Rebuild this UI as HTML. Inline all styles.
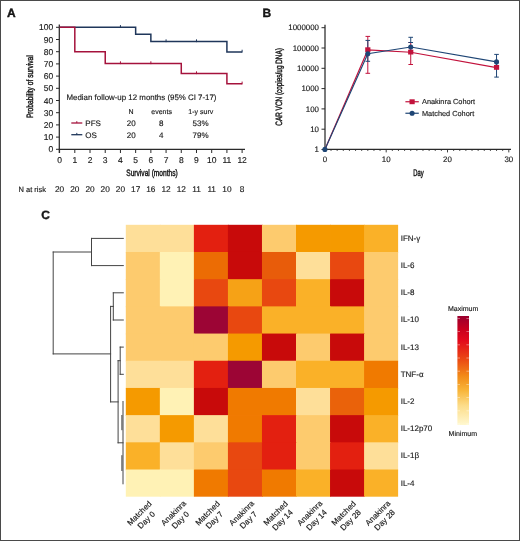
<!DOCTYPE html><html><head><meta charset="utf-8"><style>html,body{margin:0;padding:0;background:#fff;}svg{display:block;will-change:transform;}text{font-family:"Liberation Sans",sans-serif;text-rendering:geometricPrecision;fill:#1a1a1a;}</style></head><body>
<svg width="520" height="541" viewBox="0 0 520 541">
<rect x="0" y="0" width="520" height="541" fill="#fff"/>
<rect x="0.5" y="0.5" width="519" height="540" fill="none" stroke="#4a4a4a" stroke-width="1"/>
<text x="7" y="17" font-size="12" font-weight="bold" fill="#000" stroke="#000" stroke-width="0.35">A</text>
<text x="262.5" y="17" font-size="12" font-weight="bold" fill="#000" stroke="#000" stroke-width="0.35">B</text>
<text x="41.3" y="219" font-size="12" font-weight="bold" fill="#000" stroke="#000" stroke-width="0.35">C</text>
<line x1="59.3" y1="24.5" x2="59.3" y2="153" stroke="#2a2a2a" stroke-width="1.25"/>
<line x1="58.8" y1="149.4" x2="245" y2="149.4" stroke="#2a2a2a" stroke-width="1.25"/>
<line x1="56" y1="149.30" x2="59.3" y2="149.30" stroke="#2a2a2a" stroke-width="1"/>
<text x="53.3" y="152.30" font-size="8.5" text-anchor="end" fill="#1a1a1a" stroke="#1a1a1a" stroke-width="0.15">0</text>
<line x1="56" y1="137.10" x2="59.3" y2="137.10" stroke="#2a2a2a" stroke-width="1"/>
<text x="53.3" y="140.10" font-size="8.5" text-anchor="end" fill="#1a1a1a" stroke="#1a1a1a" stroke-width="0.15">10</text>
<line x1="56" y1="124.90" x2="59.3" y2="124.90" stroke="#2a2a2a" stroke-width="1"/>
<text x="53.3" y="127.90" font-size="8.5" text-anchor="end" fill="#1a1a1a" stroke="#1a1a1a" stroke-width="0.15">20</text>
<line x1="56" y1="112.70" x2="59.3" y2="112.70" stroke="#2a2a2a" stroke-width="1"/>
<text x="53.3" y="115.70" font-size="8.5" text-anchor="end" fill="#1a1a1a" stroke="#1a1a1a" stroke-width="0.15">30</text>
<line x1="56" y1="100.50" x2="59.3" y2="100.50" stroke="#2a2a2a" stroke-width="1"/>
<text x="53.3" y="103.50" font-size="8.5" text-anchor="end" fill="#1a1a1a" stroke="#1a1a1a" stroke-width="0.15">40</text>
<line x1="56" y1="88.30" x2="59.3" y2="88.30" stroke="#2a2a2a" stroke-width="1"/>
<text x="53.3" y="91.30" font-size="8.5" text-anchor="end" fill="#1a1a1a" stroke="#1a1a1a" stroke-width="0.15">50</text>
<line x1="56" y1="76.10" x2="59.3" y2="76.10" stroke="#2a2a2a" stroke-width="1"/>
<text x="53.3" y="79.10" font-size="8.5" text-anchor="end" fill="#1a1a1a" stroke="#1a1a1a" stroke-width="0.15">60</text>
<line x1="56" y1="63.90" x2="59.3" y2="63.90" stroke="#2a2a2a" stroke-width="1"/>
<text x="53.3" y="66.90" font-size="8.5" text-anchor="end" fill="#1a1a1a" stroke="#1a1a1a" stroke-width="0.15">70</text>
<line x1="56" y1="51.70" x2="59.3" y2="51.70" stroke="#2a2a2a" stroke-width="1"/>
<text x="53.3" y="54.70" font-size="8.5" text-anchor="end" fill="#1a1a1a" stroke="#1a1a1a" stroke-width="0.15">80</text>
<line x1="56" y1="39.50" x2="59.3" y2="39.50" stroke="#2a2a2a" stroke-width="1"/>
<text x="53.3" y="42.50" font-size="8.5" text-anchor="end" fill="#1a1a1a" stroke="#1a1a1a" stroke-width="0.15">90</text>
<line x1="56" y1="27.30" x2="59.3" y2="27.30" stroke="#2a2a2a" stroke-width="1"/>
<text x="53.3" y="30.30" font-size="8.5" text-anchor="end" fill="#1a1a1a" stroke="#1a1a1a" stroke-width="0.15">100</text>
<line x1="59.60" y1="149.4" x2="59.60" y2="153" stroke="#2a2a2a" stroke-width="1"/>
<text x="59.60" y="163.1" font-size="8.5" text-anchor="middle" fill="#1a1a1a" stroke="#1a1a1a" stroke-width="0.15">0</text>
<line x1="74.81" y1="149.4" x2="74.81" y2="153" stroke="#2a2a2a" stroke-width="1"/>
<text x="74.81" y="163.1" font-size="8.5" text-anchor="middle" fill="#1a1a1a" stroke="#1a1a1a" stroke-width="0.15">1</text>
<line x1="90.02" y1="149.4" x2="90.02" y2="153" stroke="#2a2a2a" stroke-width="1"/>
<text x="90.02" y="163.1" font-size="8.5" text-anchor="middle" fill="#1a1a1a" stroke="#1a1a1a" stroke-width="0.15">2</text>
<line x1="105.23" y1="149.4" x2="105.23" y2="153" stroke="#2a2a2a" stroke-width="1"/>
<text x="105.23" y="163.1" font-size="8.5" text-anchor="middle" fill="#1a1a1a" stroke="#1a1a1a" stroke-width="0.15">3</text>
<line x1="120.44" y1="149.4" x2="120.44" y2="153" stroke="#2a2a2a" stroke-width="1"/>
<text x="120.44" y="163.1" font-size="8.5" text-anchor="middle" fill="#1a1a1a" stroke="#1a1a1a" stroke-width="0.15">4</text>
<line x1="135.65" y1="149.4" x2="135.65" y2="153" stroke="#2a2a2a" stroke-width="1"/>
<text x="135.65" y="163.1" font-size="8.5" text-anchor="middle" fill="#1a1a1a" stroke="#1a1a1a" stroke-width="0.15">5</text>
<line x1="150.86" y1="149.4" x2="150.86" y2="153" stroke="#2a2a2a" stroke-width="1"/>
<text x="150.86" y="163.1" font-size="8.5" text-anchor="middle" fill="#1a1a1a" stroke="#1a1a1a" stroke-width="0.15">6</text>
<line x1="166.07" y1="149.4" x2="166.07" y2="153" stroke="#2a2a2a" stroke-width="1"/>
<text x="166.07" y="163.1" font-size="8.5" text-anchor="middle" fill="#1a1a1a" stroke="#1a1a1a" stroke-width="0.15">7</text>
<line x1="181.28" y1="149.4" x2="181.28" y2="153" stroke="#2a2a2a" stroke-width="1"/>
<text x="181.28" y="163.1" font-size="8.5" text-anchor="middle" fill="#1a1a1a" stroke="#1a1a1a" stroke-width="0.15">8</text>
<line x1="196.49" y1="149.4" x2="196.49" y2="153" stroke="#2a2a2a" stroke-width="1"/>
<text x="196.49" y="163.1" font-size="8.5" text-anchor="middle" fill="#1a1a1a" stroke="#1a1a1a" stroke-width="0.15">9</text>
<line x1="211.70" y1="149.4" x2="211.70" y2="153" stroke="#2a2a2a" stroke-width="1"/>
<text x="211.70" y="163.1" font-size="8.5" text-anchor="middle" fill="#1a1a1a" stroke="#1a1a1a" stroke-width="0.15">10</text>
<line x1="226.91" y1="149.4" x2="226.91" y2="153" stroke="#2a2a2a" stroke-width="1"/>
<text x="226.91" y="163.1" font-size="8.5" text-anchor="middle" fill="#1a1a1a" stroke="#1a1a1a" stroke-width="0.15">11</text>
<line x1="242.12" y1="149.4" x2="242.12" y2="153" stroke="#2a2a2a" stroke-width="1"/>
<text x="242.12" y="163.1" font-size="8.5" text-anchor="middle" fill="#1a1a1a" stroke="#1a1a1a" stroke-width="0.15">12</text>
<text x="152" y="175.9" font-size="9.3" text-anchor="middle" fill="#1a1a1a" stroke="#1a1a1a" stroke-width="0.45" textLength="51.5" lengthAdjust="spacingAndGlyphs">Survival (months)</text>
<text transform="translate(33.2,86.7) rotate(-90)" x="0" y="0" font-size="9.2" text-anchor="middle" fill="#1a1a1a" stroke="#1a1a1a" stroke-width="0.45" textLength="62.8" lengthAdjust="spacingAndGlyphs">Probability of survival</text>
<path d="M59.60,27.30 H135.65 V34.25 H150.86 V41.57 H226.91 V51.94 H242.12" fill="none" stroke="#1F365A" stroke-width="1.5" stroke-linejoin="miter"/>
<path d="M59.60,27.30 H74.81 V51.70 H105.23 V63.53 H181.28 V73.54 H226.91 V83.79 H242.12" fill="none" stroke="#A5123C" stroke-width="1.5" stroke-linejoin="miter"/>
<line x1="120.44" y1="25.10" x2="120.44" y2="27.90" stroke="#1F365A" stroke-width="1"/>
<line x1="166.07" y1="39.37" x2="166.07" y2="42.17" stroke="#1F365A" stroke-width="1"/>
<line x1="196.49" y1="39.37" x2="196.49" y2="42.17" stroke="#1F365A" stroke-width="1"/>
<line x1="242.12" y1="49.74" x2="242.12" y2="52.54" stroke="#1F365A" stroke-width="1"/>
<line x1="120.44" y1="61.33" x2="120.44" y2="64.13" stroke="#A5123C" stroke-width="1"/>
<line x1="150.86" y1="61.33" x2="150.86" y2="64.13" stroke="#A5123C" stroke-width="1"/>
<line x1="196.49" y1="71.34" x2="196.49" y2="74.14" stroke="#A5123C" stroke-width="1"/>
<line x1="242.12" y1="81.59" x2="242.12" y2="84.39" stroke="#A5123C" stroke-width="1"/>
<text x="66.5" y="99.6" font-size="7.9" fill="#1a1a1a" stroke="#1a1a1a" stroke-width="0.15">Median follow-up 12 months (95% CI 7-17)</text>
<text x="131" y="113.8" font-size="7" text-anchor="middle" fill="#1a1a1a" stroke="#1a1a1a" stroke-width="0.15">N</text>
<text x="161.6" y="113.8" font-size="7" text-anchor="middle" fill="#1a1a1a" stroke="#1a1a1a" stroke-width="0.15">events</text>
<text x="200.8" y="113.8" font-size="7" text-anchor="middle" fill="#1a1a1a" stroke="#1a1a1a" stroke-width="0.15">1-y surv</text>
<line x1="71.3" y1="123" x2="82.3" y2="123" stroke="#A5123C" stroke-width="1.3"/>
<line x1="76.8" y1="121.2" x2="76.8" y2="123" stroke="#A5123C" stroke-width="1"/>
<text x="85.3" y="125.9" font-size="8" fill="#1a1a1a" stroke="#1a1a1a" stroke-width="0.15">PFS</text>
<text x="131.3" y="125.9" font-size="8" text-anchor="middle" fill="#1a1a1a" stroke="#1a1a1a" stroke-width="0.15">20</text>
<text x="161.3" y="125.9" font-size="8" text-anchor="middle" fill="#1a1a1a" stroke="#1a1a1a" stroke-width="0.15">8</text>
<text x="200.5" y="125.9" font-size="8" text-anchor="middle" fill="#1a1a1a" stroke="#1a1a1a" stroke-width="0.15">53%</text>
<line x1="71.3" y1="134.7" x2="82.3" y2="134.7" stroke="#1F365A" stroke-width="1.3"/>
<line x1="76.8" y1="132.89999999999998" x2="76.8" y2="134.7" stroke="#1F365A" stroke-width="1"/>
<text x="85.3" y="137.6" font-size="8" fill="#1a1a1a" stroke="#1a1a1a" stroke-width="0.15">OS</text>
<text x="131.3" y="137.6" font-size="8" text-anchor="middle" fill="#1a1a1a" stroke="#1a1a1a" stroke-width="0.15">20</text>
<text x="161.3" y="137.6" font-size="8" text-anchor="middle" fill="#1a1a1a" stroke="#1a1a1a" stroke-width="0.15">4</text>
<text x="200.5" y="137.6" font-size="8" text-anchor="middle" fill="#1a1a1a" stroke="#1a1a1a" stroke-width="0.15">79%</text>
<text x="18.5" y="191.5" font-size="7.5" fill="#1a1a1a" stroke="#1a1a1a" stroke-width="0.15" textLength="27.5" lengthAdjust="spacingAndGlyphs">N at risk</text>
<text x="59.60" y="191.9" font-size="8.3" text-anchor="middle" fill="#1a1a1a" stroke="#1a1a1a" stroke-width="0.15">20</text>
<text x="74.81" y="191.9" font-size="8.3" text-anchor="middle" fill="#1a1a1a" stroke="#1a1a1a" stroke-width="0.15">20</text>
<text x="90.02" y="191.9" font-size="8.3" text-anchor="middle" fill="#1a1a1a" stroke="#1a1a1a" stroke-width="0.15">20</text>
<text x="105.23" y="191.9" font-size="8.3" text-anchor="middle" fill="#1a1a1a" stroke="#1a1a1a" stroke-width="0.15">20</text>
<text x="120.44" y="191.9" font-size="8.3" text-anchor="middle" fill="#1a1a1a" stroke="#1a1a1a" stroke-width="0.15">20</text>
<text x="135.65" y="191.9" font-size="8.3" text-anchor="middle" fill="#1a1a1a" stroke="#1a1a1a" stroke-width="0.15">17</text>
<text x="150.86" y="191.9" font-size="8.3" text-anchor="middle" fill="#1a1a1a" stroke="#1a1a1a" stroke-width="0.15">16</text>
<text x="166.07" y="191.9" font-size="8.3" text-anchor="middle" fill="#1a1a1a" stroke="#1a1a1a" stroke-width="0.15">12</text>
<text x="181.28" y="191.9" font-size="8.3" text-anchor="middle" fill="#1a1a1a" stroke="#1a1a1a" stroke-width="0.15">12</text>
<text x="196.49" y="191.9" font-size="8.3" text-anchor="middle" fill="#1a1a1a" stroke="#1a1a1a" stroke-width="0.15">11</text>
<text x="211.70" y="191.9" font-size="8.3" text-anchor="middle" fill="#1a1a1a" stroke="#1a1a1a" stroke-width="0.15">11</text>
<text x="226.91" y="191.9" font-size="8.3" text-anchor="middle" fill="#1a1a1a" stroke="#1a1a1a" stroke-width="0.15">10</text>
<text x="242.12" y="191.9" font-size="8.3" text-anchor="middle" fill="#1a1a1a" stroke="#1a1a1a" stroke-width="0.15">8</text>
<line x1="325" y1="24.8" x2="325" y2="149.6" stroke="#2a2a2a" stroke-width="1.25"/>
<line x1="324.5" y1="149.4" x2="511" y2="149.4" stroke="#2a2a2a" stroke-width="1.25"/>
<line x1="321.5" y1="149.50" x2="325" y2="149.50" stroke="#2a2a2a" stroke-width="1"/>
<text x="319" y="152.25" font-size="7.9" text-anchor="end" fill="#1a1a1a" stroke="#1a1a1a" stroke-width="0.15">1</text>
<line x1="321.5" y1="129.20" x2="325" y2="129.20" stroke="#2a2a2a" stroke-width="1"/>
<text x="319" y="131.95" font-size="7.9" text-anchor="end" fill="#1a1a1a" stroke="#1a1a1a" stroke-width="0.15">10</text>
<line x1="321.5" y1="108.90" x2="325" y2="108.90" stroke="#2a2a2a" stroke-width="1"/>
<text x="319" y="111.65" font-size="7.9" text-anchor="end" fill="#1a1a1a" stroke="#1a1a1a" stroke-width="0.15">100</text>
<line x1="321.5" y1="88.60" x2="325" y2="88.60" stroke="#2a2a2a" stroke-width="1"/>
<text x="319" y="91.35" font-size="7.9" text-anchor="end" fill="#1a1a1a" stroke="#1a1a1a" stroke-width="0.15">1000</text>
<line x1="321.5" y1="68.30" x2="325" y2="68.30" stroke="#2a2a2a" stroke-width="1"/>
<text x="319" y="71.05" font-size="7.9" text-anchor="end" fill="#1a1a1a" stroke="#1a1a1a" stroke-width="0.15">10000</text>
<line x1="321.5" y1="48.00" x2="325" y2="48.00" stroke="#2a2a2a" stroke-width="1"/>
<text x="319" y="50.75" font-size="7.9" text-anchor="end" fill="#1a1a1a" stroke="#1a1a1a" stroke-width="0.15">100000</text>
<line x1="321.5" y1="27.70" x2="325" y2="27.70" stroke="#2a2a2a" stroke-width="1"/>
<text x="319" y="30.45" font-size="7.9" text-anchor="end" fill="#1a1a1a" stroke="#1a1a1a" stroke-width="0.15">1000000</text>
<line x1="331.03" y1="149.4" x2="331.03" y2="150.90" stroke="#2a2a2a" stroke-width="0.9"/>
<line x1="337.16" y1="149.4" x2="337.16" y2="150.90" stroke="#2a2a2a" stroke-width="0.9"/>
<line x1="343.29" y1="149.4" x2="343.29" y2="150.90" stroke="#2a2a2a" stroke-width="0.9"/>
<line x1="349.42" y1="149.4" x2="349.42" y2="150.90" stroke="#2a2a2a" stroke-width="0.9"/>
<line x1="355.55" y1="149.4" x2="355.55" y2="150.90" stroke="#2a2a2a" stroke-width="0.9"/>
<line x1="361.68" y1="149.4" x2="361.68" y2="150.90" stroke="#2a2a2a" stroke-width="0.9"/>
<line x1="367.81" y1="149.4" x2="367.81" y2="150.90" stroke="#2a2a2a" stroke-width="0.9"/>
<line x1="373.94" y1="149.4" x2="373.94" y2="150.90" stroke="#2a2a2a" stroke-width="0.9"/>
<line x1="380.07" y1="149.4" x2="380.07" y2="150.90" stroke="#2a2a2a" stroke-width="0.9"/>
<line x1="386.20" y1="149.4" x2="386.20" y2="152.40" stroke="#2a2a2a" stroke-width="0.9"/>
<line x1="392.33" y1="149.4" x2="392.33" y2="150.90" stroke="#2a2a2a" stroke-width="0.9"/>
<line x1="398.46" y1="149.4" x2="398.46" y2="150.90" stroke="#2a2a2a" stroke-width="0.9"/>
<line x1="404.59" y1="149.4" x2="404.59" y2="150.90" stroke="#2a2a2a" stroke-width="0.9"/>
<line x1="410.72" y1="149.4" x2="410.72" y2="150.90" stroke="#2a2a2a" stroke-width="0.9"/>
<line x1="416.85" y1="149.4" x2="416.85" y2="150.90" stroke="#2a2a2a" stroke-width="0.9"/>
<line x1="422.98" y1="149.4" x2="422.98" y2="150.90" stroke="#2a2a2a" stroke-width="0.9"/>
<line x1="429.11" y1="149.4" x2="429.11" y2="150.90" stroke="#2a2a2a" stroke-width="0.9"/>
<line x1="435.24" y1="149.4" x2="435.24" y2="150.90" stroke="#2a2a2a" stroke-width="0.9"/>
<line x1="441.37" y1="149.4" x2="441.37" y2="150.90" stroke="#2a2a2a" stroke-width="0.9"/>
<line x1="447.50" y1="149.4" x2="447.50" y2="152.40" stroke="#2a2a2a" stroke-width="0.9"/>
<line x1="453.63" y1="149.4" x2="453.63" y2="150.90" stroke="#2a2a2a" stroke-width="0.9"/>
<line x1="459.76" y1="149.4" x2="459.76" y2="150.90" stroke="#2a2a2a" stroke-width="0.9"/>
<line x1="465.89" y1="149.4" x2="465.89" y2="150.90" stroke="#2a2a2a" stroke-width="0.9"/>
<line x1="472.02" y1="149.4" x2="472.02" y2="150.90" stroke="#2a2a2a" stroke-width="0.9"/>
<line x1="478.15" y1="149.4" x2="478.15" y2="150.90" stroke="#2a2a2a" stroke-width="0.9"/>
<line x1="484.28" y1="149.4" x2="484.28" y2="150.90" stroke="#2a2a2a" stroke-width="0.9"/>
<line x1="490.41" y1="149.4" x2="490.41" y2="150.90" stroke="#2a2a2a" stroke-width="0.9"/>
<line x1="496.54" y1="149.4" x2="496.54" y2="150.90" stroke="#2a2a2a" stroke-width="0.9"/>
<line x1="502.67" y1="149.4" x2="502.67" y2="150.90" stroke="#2a2a2a" stroke-width="0.9"/>
<line x1="508.80" y1="149.4" x2="508.80" y2="152.40" stroke="#2a2a2a" stroke-width="0.9"/>
<text x="324.90" y="162.1" font-size="7.9" text-anchor="middle" fill="#1a1a1a" stroke="#1a1a1a" stroke-width="0.15">0</text>
<text x="386.20" y="162.1" font-size="7.9" text-anchor="middle" fill="#1a1a1a" stroke="#1a1a1a" stroke-width="0.15">10</text>
<text x="447.50" y="162.1" font-size="7.9" text-anchor="middle" fill="#1a1a1a" stroke="#1a1a1a" stroke-width="0.15">20</text>
<text x="508.80" y="162.1" font-size="7.9" text-anchor="middle" fill="#1a1a1a" stroke="#1a1a1a" stroke-width="0.15">30</text>
<text x="418.45" y="175.5" font-size="9.6" text-anchor="middle" fill="#1a1a1a" stroke="#1a1a1a" stroke-width="0.45" textLength="10.4" lengthAdjust="spacingAndGlyphs">Day</text>
<text transform="translate(282.4,86.9) rotate(-90)" x="0" y="0" font-size="9.2" text-anchor="middle" fill="#1a1a1a" stroke="#1a1a1a" stroke-width="0.45" textLength="77.6" lengthAdjust="spacingAndGlyphs">CAR VCN (copies/ug DNA)</text>
<line x1="367.81" y1="36.4" x2="367.81" y2="73.3" stroke="#C2123C" stroke-width="1"/>
<line x1="365.51" y1="36.4" x2="370.11" y2="36.4" stroke="#C2123C" stroke-width="1"/>
<line x1="365.51" y1="73.3" x2="370.11" y2="73.3" stroke="#C2123C" stroke-width="1"/>
<line x1="410.72" y1="42.5" x2="410.72" y2="64.5" stroke="#C2123C" stroke-width="1"/>
<line x1="408.42" y1="42.5" x2="413.02" y2="42.5" stroke="#C2123C" stroke-width="1"/>
<line x1="408.42" y1="64.5" x2="413.02" y2="64.5" stroke="#C2123C" stroke-width="1"/>
<line x1="367.81" y1="40.4" x2="367.81" y2="61.3" stroke="#1F4675" stroke-width="1"/>
<line x1="365.51" y1="40.4" x2="370.11" y2="40.4" stroke="#1F4675" stroke-width="1"/>
<line x1="365.51" y1="61.3" x2="370.11" y2="61.3" stroke="#1F4675" stroke-width="1"/>
<line x1="410.72" y1="37.3" x2="410.72" y2="42.5" stroke="#1F4675" stroke-width="1"/>
<line x1="408.42" y1="37.3" x2="413.02" y2="37.3" stroke="#1F4675" stroke-width="1"/>
<line x1="408.42" y1="42.5" x2="413.02" y2="42.5" stroke="#1F4675" stroke-width="1"/>
<line x1="496.54" y1="54.4" x2="496.54" y2="77.1" stroke="#1F4675" stroke-width="1"/>
<line x1="494.24" y1="54.4" x2="498.84" y2="54.4" stroke="#1F4675" stroke-width="1"/>
<line x1="494.24" y1="77.1" x2="498.84" y2="77.1" stroke="#1F4675" stroke-width="1"/>
<path d="M324.90,149.40 L367.81,49.90 L410.72,52.30 L496.54,67.60" fill="none" stroke="#C2123C" stroke-width="1.15"/>
<rect x="365.21" y="47.30" width="5.2" height="4.8" fill="#C2123C"/>
<rect x="408.12" y="49.70" width="5.2" height="4.8" fill="#C2123C"/>
<rect x="493.94" y="65.00" width="5.2" height="4.8" fill="#C2123C"/>
<path d="M324.90,149.40 L367.81,53.80 L410.72,47.00 L496.54,61.90" fill="none" stroke="#1F4675" stroke-width="1.15"/>
<circle cx="324.90" cy="149.40" r="2.55" fill="#1F4675"/>
<circle cx="367.81" cy="53.80" r="2.55" fill="#1F4675"/>
<circle cx="410.72" cy="47.00" r="2.55" fill="#1F4675"/>
<circle cx="496.54" cy="61.90" r="2.55" fill="#1F4675"/>
<line x1="405.4" y1="101.75" x2="418.8" y2="101.75" stroke="#C2123C" stroke-width="1.2"/>
<rect x="409.5" y="99.3" width="5.2" height="4.9" fill="#C2123C"/>
<text x="422" y="104.3" font-size="7.35" fill="#1a1a1a" stroke="#1a1a1a" stroke-width="0.15">Anakinra Cohort</text>
<line x1="405.4" y1="113.25" x2="418.8" y2="113.25" stroke="#1F4675" stroke-width="1.2"/>
<circle cx="412.1" cy="113.25" r="2.55" fill="#1F4675"/>
<text x="422" y="115.8" font-size="7.35" fill="#1a1a1a" stroke="#1a1a1a" stroke-width="0.15">Matched Cohort</text>
<rect x="125.80" y="224.80" width="34.84" height="27.99" fill="#FEDF99"/>
<rect x="159.84" y="224.80" width="34.84" height="27.99" fill="#FEDF99"/>
<rect x="193.88" y="224.80" width="34.84" height="27.99" fill="#E32010"/>
<rect x="227.92" y="224.80" width="34.84" height="27.99" fill="#C80A0A"/>
<rect x="261.96" y="224.80" width="34.84" height="27.99" fill="#FDCB6E"/>
<rect x="296.00" y="224.80" width="34.84" height="27.99" fill="#F59A00"/>
<rect x="330.04" y="224.80" width="34.84" height="27.99" fill="#F59A00"/>
<rect x="364.08" y="224.80" width="34.04" height="27.99" fill="#FAB128"/>
<text x="400.7" y="240.80" font-size="8" fill="#1a1a1a" stroke="#1a1a1a" stroke-width="0.15">IFN-γ</text>
<rect x="125.80" y="251.99" width="34.84" height="27.99" fill="#FDCB6E"/>
<rect x="159.84" y="251.99" width="34.84" height="27.99" fill="#FFF2B5"/>
<rect x="193.88" y="251.99" width="34.84" height="27.99" fill="#EC6C04"/>
<rect x="227.92" y="251.99" width="34.84" height="27.99" fill="#C80A0A"/>
<rect x="261.96" y="251.99" width="34.84" height="27.99" fill="#E85C0A"/>
<rect x="296.00" y="251.99" width="34.84" height="27.99" fill="#FEDF99"/>
<rect x="330.04" y="251.99" width="34.84" height="27.99" fill="#E84810"/>
<rect x="364.08" y="251.99" width="34.04" height="27.99" fill="#FDCB6E"/>
<text x="400.7" y="267.99" font-size="8" fill="#1a1a1a" stroke="#1a1a1a" stroke-width="0.15">IL-6</text>
<rect x="125.80" y="279.18" width="34.84" height="27.99" fill="#FDCB6E"/>
<rect x="159.84" y="279.18" width="34.84" height="27.99" fill="#FFF2B5"/>
<rect x="193.88" y="279.18" width="34.84" height="27.99" fill="#E84810"/>
<rect x="227.92" y="279.18" width="34.84" height="27.99" fill="#F6A216"/>
<rect x="261.96" y="279.18" width="34.84" height="27.99" fill="#E84810"/>
<rect x="296.00" y="279.18" width="34.84" height="27.99" fill="#FAB128"/>
<rect x="330.04" y="279.18" width="34.84" height="27.99" fill="#C80A0A"/>
<rect x="364.08" y="279.18" width="34.04" height="27.99" fill="#FDCB6E"/>
<text x="400.7" y="295.18" font-size="8" fill="#1a1a1a" stroke="#1a1a1a" stroke-width="0.15">IL-8</text>
<rect x="125.80" y="306.37" width="34.84" height="27.99" fill="#FDCB6E"/>
<rect x="159.84" y="306.37" width="34.84" height="27.99" fill="#FDCB6E"/>
<rect x="193.88" y="306.37" width="34.84" height="27.99" fill="#9C0535"/>
<rect x="227.92" y="306.37" width="34.84" height="27.99" fill="#E84810"/>
<rect x="261.96" y="306.37" width="34.84" height="27.99" fill="#FAB128"/>
<rect x="296.00" y="306.37" width="34.84" height="27.99" fill="#FAB128"/>
<rect x="330.04" y="306.37" width="34.84" height="27.99" fill="#FAB128"/>
<rect x="364.08" y="306.37" width="34.04" height="27.99" fill="#FDCB6E"/>
<text x="400.7" y="322.37" font-size="8" fill="#1a1a1a" stroke="#1a1a1a" stroke-width="0.15">IL-10</text>
<rect x="125.80" y="333.56" width="34.84" height="27.99" fill="#FDCB6E"/>
<rect x="159.84" y="333.56" width="34.84" height="27.99" fill="#FDCB6E"/>
<rect x="193.88" y="333.56" width="34.84" height="27.99" fill="#FDCB6E"/>
<rect x="227.92" y="333.56" width="34.84" height="27.99" fill="#F59A00"/>
<rect x="261.96" y="333.56" width="34.84" height="27.99" fill="#C80A0A"/>
<rect x="296.00" y="333.56" width="34.84" height="27.99" fill="#FDCB6E"/>
<rect x="330.04" y="333.56" width="34.84" height="27.99" fill="#C80A0A"/>
<rect x="364.08" y="333.56" width="34.04" height="27.99" fill="#FDCB6E"/>
<text x="400.7" y="349.56" font-size="8" fill="#1a1a1a" stroke="#1a1a1a" stroke-width="0.15">IL-13</text>
<rect x="125.80" y="360.75" width="34.84" height="27.99" fill="#FEDF99"/>
<rect x="159.84" y="360.75" width="34.84" height="27.99" fill="#FEDF99"/>
<rect x="193.88" y="360.75" width="34.84" height="27.99" fill="#E32010"/>
<rect x="227.92" y="360.75" width="34.84" height="27.99" fill="#9C0535"/>
<rect x="261.96" y="360.75" width="34.84" height="27.99" fill="#FDCB6E"/>
<rect x="296.00" y="360.75" width="34.84" height="27.99" fill="#FAB128"/>
<rect x="330.04" y="360.75" width="34.84" height="27.99" fill="#FAB128"/>
<rect x="364.08" y="360.75" width="34.04" height="27.99" fill="#F07A00"/>
<text x="400.7" y="376.75" font-size="8" fill="#1a1a1a" stroke="#1a1a1a" stroke-width="0.15">TNF-α</text>
<rect x="125.80" y="387.94" width="34.84" height="27.99" fill="#F59A00"/>
<rect x="159.84" y="387.94" width="34.84" height="27.99" fill="#FFF2B5"/>
<rect x="193.88" y="387.94" width="34.84" height="27.99" fill="#C80A0A"/>
<rect x="227.92" y="387.94" width="34.84" height="27.99" fill="#F07A00"/>
<rect x="261.96" y="387.94" width="34.84" height="27.99" fill="#F07A00"/>
<rect x="296.00" y="387.94" width="34.84" height="27.99" fill="#FEDF99"/>
<rect x="330.04" y="387.94" width="34.84" height="27.99" fill="#EA620A"/>
<rect x="364.08" y="387.94" width="34.04" height="27.99" fill="#F59A00"/>
<text x="400.7" y="403.94" font-size="8" fill="#1a1a1a" stroke="#1a1a1a" stroke-width="0.15">IL-2</text>
<rect x="125.80" y="415.13" width="34.84" height="27.99" fill="#FEDF99"/>
<rect x="159.84" y="415.13" width="34.84" height="27.99" fill="#F59A00"/>
<rect x="193.88" y="415.13" width="34.84" height="27.99" fill="#FEDF99"/>
<rect x="227.92" y="415.13" width="34.84" height="27.99" fill="#F07A00"/>
<rect x="261.96" y="415.13" width="34.84" height="27.99" fill="#E32010"/>
<rect x="296.00" y="415.13" width="34.84" height="27.99" fill="#FDCB6E"/>
<rect x="330.04" y="415.13" width="34.84" height="27.99" fill="#C80A0A"/>
<rect x="364.08" y="415.13" width="34.04" height="27.99" fill="#FAB128"/>
<text x="400.7" y="431.12" font-size="8" fill="#1a1a1a" stroke="#1a1a1a" stroke-width="0.15">IL-12p70</text>
<rect x="125.80" y="442.32" width="34.84" height="27.99" fill="#FAB128"/>
<rect x="159.84" y="442.32" width="34.84" height="27.99" fill="#FEDF99"/>
<rect x="193.88" y="442.32" width="34.84" height="27.99" fill="#FDCB6E"/>
<rect x="227.92" y="442.32" width="34.84" height="27.99" fill="#E84810"/>
<rect x="261.96" y="442.32" width="34.84" height="27.99" fill="#E32010"/>
<rect x="296.00" y="442.32" width="34.84" height="27.99" fill="#FDCB6E"/>
<rect x="330.04" y="442.32" width="34.84" height="27.99" fill="#E32010"/>
<rect x="364.08" y="442.32" width="34.04" height="27.99" fill="#FEDF99"/>
<text x="400.7" y="458.31" font-size="8" fill="#1a1a1a" stroke="#1a1a1a" stroke-width="0.15">IL-1β</text>
<rect x="125.80" y="469.51" width="34.84" height="27.19" fill="#FFF2B5"/>
<rect x="159.84" y="469.51" width="34.84" height="27.19" fill="#FFF2B5"/>
<rect x="193.88" y="469.51" width="34.84" height="27.19" fill="#F07A00"/>
<rect x="227.92" y="469.51" width="34.84" height="27.19" fill="#E84810"/>
<rect x="261.96" y="469.51" width="34.84" height="27.19" fill="#F07A00"/>
<rect x="296.00" y="469.51" width="34.84" height="27.19" fill="#FAB128"/>
<rect x="330.04" y="469.51" width="34.84" height="27.19" fill="#C80A0A"/>
<rect x="364.08" y="469.51" width="34.04" height="27.19" fill="#FAB128"/>
<text x="400.7" y="485.50" font-size="8" fill="#1a1a1a" stroke="#1a1a1a" stroke-width="0.15">IL-4</text>
<g transform="translate(142.82,516.5) rotate(-45)"><text x="0" y="-2" font-size="8" text-anchor="middle" fill="#1a1a1a" stroke="#1a1a1a" stroke-width="0.15">Matched</text><text x="0" y="7.7" font-size="8" text-anchor="middle" fill="#1a1a1a" stroke="#1a1a1a" stroke-width="0.15">Day 0</text></g>
<g transform="translate(176.86,516.5) rotate(-45)"><text x="0" y="-2" font-size="8" text-anchor="middle" fill="#1a1a1a" stroke="#1a1a1a" stroke-width="0.15">Anakinra</text><text x="0" y="7.7" font-size="8" text-anchor="middle" fill="#1a1a1a" stroke="#1a1a1a" stroke-width="0.15">Day 0</text></g>
<g transform="translate(210.90,516.5) rotate(-45)"><text x="0" y="-2" font-size="8" text-anchor="middle" fill="#1a1a1a" stroke="#1a1a1a" stroke-width="0.15">Matched</text><text x="0" y="7.7" font-size="8" text-anchor="middle" fill="#1a1a1a" stroke="#1a1a1a" stroke-width="0.15">Day 7</text></g>
<g transform="translate(244.94,516.5) rotate(-45)"><text x="0" y="-2" font-size="8" text-anchor="middle" fill="#1a1a1a" stroke="#1a1a1a" stroke-width="0.15">Anakinra</text><text x="0" y="7.7" font-size="8" text-anchor="middle" fill="#1a1a1a" stroke="#1a1a1a" stroke-width="0.15">Day 7</text></g>
<g transform="translate(278.98,516.5) rotate(-45)"><text x="0" y="-2" font-size="8" text-anchor="middle" fill="#1a1a1a" stroke="#1a1a1a" stroke-width="0.15">Matched</text><text x="0" y="7.7" font-size="8" text-anchor="middle" fill="#1a1a1a" stroke="#1a1a1a" stroke-width="0.15">Day 14</text></g>
<g transform="translate(313.02,516.5) rotate(-45)"><text x="0" y="-2" font-size="8" text-anchor="middle" fill="#1a1a1a" stroke="#1a1a1a" stroke-width="0.15">Anakinra</text><text x="0" y="7.7" font-size="8" text-anchor="middle" fill="#1a1a1a" stroke="#1a1a1a" stroke-width="0.15">Day 14</text></g>
<g transform="translate(347.06,516.5) rotate(-45)"><text x="0" y="-2" font-size="8" text-anchor="middle" fill="#1a1a1a" stroke="#1a1a1a" stroke-width="0.15">Matched</text><text x="0" y="7.7" font-size="8" text-anchor="middle" fill="#1a1a1a" stroke="#1a1a1a" stroke-width="0.15">Day 28</text></g>
<g transform="translate(381.10,516.5) rotate(-45)"><text x="0" y="-2" font-size="8" text-anchor="middle" fill="#1a1a1a" stroke="#1a1a1a" stroke-width="0.15">Anakinra</text><text x="0" y="7.7" font-size="8" text-anchor="middle" fill="#1a1a1a" stroke="#1a1a1a" stroke-width="0.15">Day 28</text></g>
<line x1="91.5" y1="238.4" x2="123.3" y2="238.4" stroke="#444" stroke-width="1" stroke-linecap="square"/>
<line x1="91.5" y1="265.6" x2="123.3" y2="265.6" stroke="#444" stroke-width="1" stroke-linecap="square"/>
<line x1="91.5" y1="238.4" x2="91.5" y2="265.6" stroke="#444" stroke-width="1" stroke-linecap="square"/>
<line x1="53.2" y1="252.0" x2="91.5" y2="252.0" stroke="#444" stroke-width="1" stroke-linecap="square"/>
<line x1="53.2" y1="252.0" x2="53.2" y2="353.9" stroke="#444" stroke-width="1" stroke-linecap="square"/>
<line x1="53.2" y1="353.9" x2="110.6" y2="353.9" stroke="#444" stroke-width="1" stroke-linecap="square"/>
<line x1="113.3" y1="292.8" x2="123.3" y2="292.8" stroke="#444" stroke-width="1" stroke-linecap="square"/>
<line x1="113.3" y1="320.0" x2="123.3" y2="320.0" stroke="#444" stroke-width="1" stroke-linecap="square"/>
<line x1="113.3" y1="292.8" x2="113.3" y2="320.0" stroke="#444" stroke-width="1" stroke-linecap="square"/>
<line x1="110.6" y1="306.4" x2="113.3" y2="306.4" stroke="#444" stroke-width="1" stroke-linecap="square"/>
<line x1="110.6" y1="306.4" x2="110.6" y2="401.9" stroke="#444" stroke-width="1" stroke-linecap="square"/>
<line x1="110.6" y1="401.9" x2="118.1" y2="401.9" stroke="#444" stroke-width="1" stroke-linecap="square"/>
<line x1="120.2" y1="347.1" x2="123.3" y2="347.1" stroke="#444" stroke-width="1" stroke-linecap="square"/>
<line x1="120.2" y1="374.3" x2="123.3" y2="374.3" stroke="#444" stroke-width="1" stroke-linecap="square"/>
<line x1="120.2" y1="347.1" x2="120.2" y2="374.3" stroke="#444" stroke-width="1" stroke-linecap="square"/>
<line x1="118.1" y1="360.7" x2="120.2" y2="360.7" stroke="#444" stroke-width="1" stroke-linecap="square"/>
<line x1="118.1" y1="360.7" x2="118.1" y2="442.8" stroke="#444" stroke-width="1" stroke-linecap="square"/>
<line x1="118.1" y1="442.8" x2="123.0" y2="442.8" stroke="#444" stroke-width="1" stroke-linecap="square"/>
<line x1="121.9" y1="415.5" x2="121.9" y2="429.7" stroke="#444" stroke-width="1" stroke-linecap="square"/>
<line x1="121.9" y1="455.7" x2="121.9" y2="470.5" stroke="#444" stroke-width="1" stroke-linecap="square"/>
<line x1="123.0" y1="401.5" x2="123.0" y2="483.8" stroke="#444" stroke-width="1" stroke-linecap="square"/>
<defs><linearGradient id="cb" x1="0" y1="0" x2="0" y2="1"><stop offset="0" stop-color="#9A002E"/><stop offset="0.12" stop-color="#C8001E"/><stop offset="0.22" stop-color="#E2081C"/><stop offset="0.4" stop-color="#EB4A14"/><stop offset="0.55" stop-color="#F28A18"/><stop offset="0.68" stop-color="#F8B438"/><stop offset="0.82" stop-color="#FCDC88"/><stop offset="1" stop-color="#FFF8D0"/></linearGradient></defs>
<rect x="457.4" y="316" width="11.6" height="109" fill="url(#cb)"/>
<line x1="457.4" y1="318.40" x2="460" y2="318.40" stroke="#fff" stroke-width="0.6" opacity="0.7"/>
<line x1="466.4" y1="318.40" x2="469" y2="318.40" stroke="#fff" stroke-width="0.6" opacity="0.7"/>
<line x1="457.4" y1="331.60" x2="460" y2="331.60" stroke="#fff" stroke-width="0.6" opacity="0.7"/>
<line x1="466.4" y1="331.60" x2="469" y2="331.60" stroke="#fff" stroke-width="0.6" opacity="0.7"/>
<line x1="457.4" y1="344.80" x2="460" y2="344.80" stroke="#fff" stroke-width="0.6" opacity="0.7"/>
<line x1="466.4" y1="344.80" x2="469" y2="344.80" stroke="#fff" stroke-width="0.6" opacity="0.7"/>
<line x1="457.4" y1="358.00" x2="460" y2="358.00" stroke="#fff" stroke-width="0.6" opacity="0.7"/>
<line x1="466.4" y1="358.00" x2="469" y2="358.00" stroke="#fff" stroke-width="0.6" opacity="0.7"/>
<line x1="457.4" y1="371.20" x2="460" y2="371.20" stroke="#fff" stroke-width="0.6" opacity="0.7"/>
<line x1="466.4" y1="371.20" x2="469" y2="371.20" stroke="#fff" stroke-width="0.6" opacity="0.7"/>
<line x1="457.4" y1="384.40" x2="460" y2="384.40" stroke="#fff" stroke-width="0.6" opacity="0.7"/>
<line x1="466.4" y1="384.40" x2="469" y2="384.40" stroke="#fff" stroke-width="0.6" opacity="0.7"/>
<line x1="457.4" y1="397.60" x2="460" y2="397.60" stroke="#fff" stroke-width="0.6" opacity="0.7"/>
<line x1="466.4" y1="397.60" x2="469" y2="397.60" stroke="#fff" stroke-width="0.6" opacity="0.7"/>
<line x1="457.4" y1="410.80" x2="460" y2="410.80" stroke="#fff" stroke-width="0.6" opacity="0.7"/>
<line x1="466.4" y1="410.80" x2="469" y2="410.80" stroke="#fff" stroke-width="0.6" opacity="0.7"/>
<line x1="457.4" y1="424.00" x2="460" y2="424.00" stroke="#fff" stroke-width="0.6" opacity="0.7"/>
<line x1="466.4" y1="424.00" x2="469" y2="424.00" stroke="#fff" stroke-width="0.6" opacity="0.7"/>
<text x="448" y="310.6" font-size="7" fill="#1a1a1a" stroke="#1a1a1a" stroke-width="0.15">Maximum</text>
<text x="448.6" y="436.3" font-size="7" fill="#1a1a1a" stroke="#1a1a1a" stroke-width="0.15">Minimum</text>
</svg></body></html>
